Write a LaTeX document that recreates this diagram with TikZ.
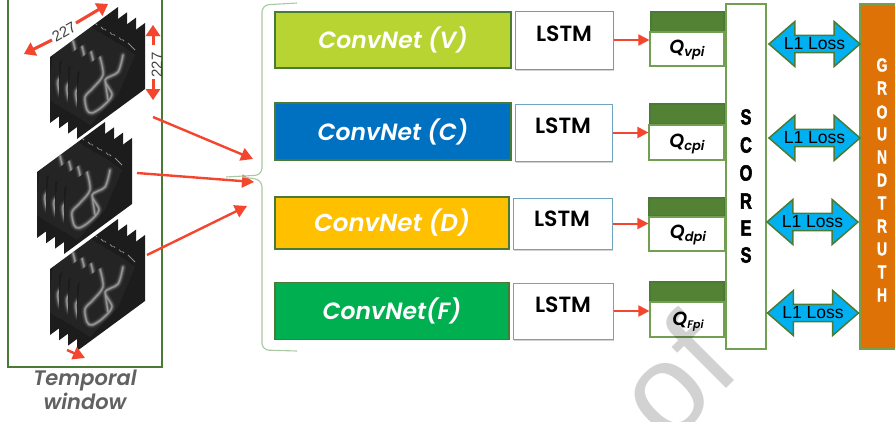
\documentclass[tikz,border=0pt]{standalone}
\usepackage{fontspec}
\usetikzlibrary{arrows.meta,shapes.arrows,shadows}
\setmainfont{Liberation Sans}
\newfontfamily\gothic[BoldFont={Poppins SemiBold},BoldItalicFont={Poppins SemiBold Italic}]{Poppins}
\newfontfamily\narrowbold[FakeStretch=0.74,FakeBold=2.5]{Liberation Sans Bold}
\newfontfamily\narrowwhite[FakeStretch=0.74,FakeBold=1.2]{Liberation Sans Bold}
\definecolor{redarrow}{HTML}{F4462F}
\definecolor{framefill}{HTML}{1C1C1C}
\definecolor{boxgreen}{HTML}{70A050}
\definecolor{darkedge}{HTML}{4A7A35}
\definecolor{headgreen}{HTML}{548235}
\definecolor{bracegreen}{HTML}{A9C9A0}
\definecolor{lstmteal}{HTML}{6FA5BC}
\definecolor{lstmgreen}{HTML}{7E9E7C}
\definecolor{lossblue}{HTML}{00B0F0}
\definecolor{truth}{HTML}{DF7206}
\definecolor{wmark}{HTML}{D2D2D2}
\tikzset{
  net/.style={draw=darkedge,line width=1.2pt,inner sep=0pt,text=white,
     font=\gothic\bfseries\itshape\fontsize{23.5}{23.5}\selectfont},
  lstmbox/.style={draw=lstmteal,fill=white,line width=1pt,inner sep=0pt,
     drop shadow={shadow xshift=1pt,shadow yshift=-1.5pt,opacity=.35}},
  lstmtext/.style={inner sep=0pt,font=\gothic\bfseries\fontsize{22}{22}\selectfont},
  qhead/.style={draw=darkedge,fill=headgreen,line width=1.2pt,inner sep=0pt},
  qbody/.style={draw=boxgreen,fill=white,line width=1.2pt,inner sep=0pt},
  qtext/.style={inner sep=0pt,font=\gothic\bfseries\itshape\fontsize{19}{19}\selectfont},
  redline/.style={draw=redarrow,line width=2.4pt,-{Triangle[length=12pt,width=13pt]}},
  dimline/.style={draw=redarrow,line width=3pt,-{Triangle[length=11pt,width=14pt]}},
  dimshadow/.style={draw=black,opacity=.18,line width=3pt,-{Triangle[length=11pt,width=14pt]},shift={(1,2)}},
  smallred/.style={draw=redarrow,line width=2pt,-{Triangle[length=11pt,width=11pt]}},
  lossarrow/.style={double arrow,double arrow tip angle=82,double arrow head extend=11pt,
     minimum height=91pt,minimum width=45pt,inner sep=0pt,draw=darkedge,fill=lossblue,
     line width=1.5pt,font=\fontsize{17.5}{17.5}\selectfont},
  brace/.style={draw=bracegreen,line width=1.1pt,rounded corners=7pt},
  tallletter/.style={inner sep=0pt,font=\narrowbold\fontsize{22}{22}\selectfont},
  truthletter/.style={inner sep=0pt,text=white,font=\narrowwhite\fontsize{19}{19}\selectfont},
  dim/.style={text=black!75,inner sep=0pt,font=\fontsize{15}{15}\selectfont},
}
\newcommand\vesselpaths[2]{%
  \draw[white,opacity=#2,line width=#1,line cap=round,line join=round]
    plot[smooth] coordinates {(100,57) (103,75) (93,88) (85,97) (87,110) (92,113) (102,107) (112,95) (105,80) (118,72) (123,55)}
    plot[smooth] coordinates {(105,80) (108,100)};
}
\newcommand\usframe{%
  \begin{scope}
    \clip (50,57) -- (118,7) -- (118,73) -- (50,123) -- cycle;
    \fill[framefill] (40,0) rectangle (130,130);
    \begin{scope}[shift={(-27,-16)}]
    \fill[white,opacity=.04] (100,30) -- (135,55) -- (118,95) -- (90,125) -- (75,115) -- (80,70) -- cycle;
    \vesselpaths{7}{.05}
    \vesselpaths{5}{.08}
    \vesselpaths{3.4}{.12}
    \vesselpaths{2.2}{.18}
    \vesselpaths{1}{.28}
    \draw[white,opacity=.5,line width=.8pt]
      (100,27) -- (104,31) (110,32) -- (114,36) (120,37) -- (124,41) (128,43) -- (135,50);
    \end{scope}
  \end{scope}
}
\newcommand\usstack[2]{%
  \begin{scope}[shift={(#1,#2)}]
    \usframe
    \begin{scope}[shift={(9,5.33)}]\usframe\end{scope}
    \begin{scope}[shift={(18,10.66)}]\usframe\end{scope}
    \begin{scope}[shift={(27,16)}]\usframe\end{scope}
  \end{scope}
}
\begin{document}
\begin{tikzpicture}[x=1pt,y=-1pt]
\clip (0,0) rectangle (895,421);
\fill[white] (0,0) rectangle (895,421);
% temporal window
\node[draw=darkedge,line width=1.2pt,minimum width=154pt,minimum height=380pt,inner sep=0pt] (tw) at (85,177) {};
\usstack{0}{0}
\usstack{-13}{115}
\usstack{0}{212}
\node[inner sep=0pt,text=black!62,align=center,font=\gothic\bfseries\itshape\fontsize{21}{24}\selectfont] (tlabel) at (85,390) {Temporal\\window};
% dimensions
\coordinate (d1a) at (52,40); \coordinate (d1b) at (24,54);
\coordinate (d2a) at (76,23); \coordinate (d2b) at (108,4);
\coordinate (d3a) at (153,45); \coordinate (d3b) at (153,25);
\coordinate (d4a) at (153,79); \coordinate (d4b) at (153,100);
\foreach \p/\q in {d1a/d1b,d2a/d2b,d3a/d3b,d4a/d4b}{
  \draw[dimshadow] (\p) -- (\q);
  \draw[dimline] (\p) -- (\q);}
\node[dim,rotate=30] (w227) at (64,32) {227};
\node[dim,rotate=90] (h227) at (157,65) {227};
\coordinate (s1) at (153,117); \coordinate (e1) at (253,159);
\coordinate (s2) at (137,173); \coordinate (e2) at (254,182);
\coordinate (s3) at (147,255); \coordinate (e3) at (247,206);
\coordinate (s4) at (67,350);  \coordinate (e4) at (85,358);
\foreach \p/\q in {s1/e1,s2/e2,s3/e3,s4/e4}{
  \draw[redline] (\p) -- (\q);}
% brace
\draw[brace] (297,3) -- (262,5) -- (262,175) -- (226,177);
\draw[brace] (243,177) -- (262,180) -- (262,350) -- (297,351);
% convnets
\node[net,fill={rgb,255:red,184;green,212;blue,50},minimum width=236pt,minimum height=56pt] (cv) at (393,40) {ConvNet (V)};
\node[net,fill={rgb,255:red,0;green,112;blue,192},minimum width=236pt,minimum height=57pt] (cc) at (393,131.5) {ConvNet (C)};
\node[net,fill={rgb,255:red,255;green,192;blue,0},minimum width=234pt,minimum height=52pt,font=\gothic\bfseries\itshape\fontsize{24.5}{24.5}\selectfont] (cd) at (392,223) {ConvNet (D)};
\node[net,fill={rgb,255:red,0;green,176;blue,80},minimum width=234pt,minimum height=57pt] (cf) at (392,311) {ConvNet(F)};
% lstm
\node[lstmbox,draw=lstmgreen,minimum width=98pt,minimum height=58pt] (lv) at (564,40) {};
\node[lstmbox,minimum width=97pt,minimum height=57pt] (lc) at (563.5,132.5) {};
\node[lstmbox,minimum width=99pt,minimum height=51pt] (ld) at (562.5,223.5) {};
\node[lstmbox,minimum width=100pt,minimum height=56pt] (lf) at (563,311) {};
\node[lstmtext] (tv) at (564,34) {LSTM};
\node[lstmtext] (tc) at (563,126) {LSTM};
\node[lstmtext] (td) at (562,219) {LSTM};
\node[lstmtext] (tf) at (563,305) {LSTM};
% Q boxes
\node[qhead,minimum width=73pt,minimum height=20pt] (hv) at (687.5,22) {};
\node[qbody,minimum width=74pt,minimum height=34pt] (qv) at (687,49) {};
\node[qhead,minimum width=75pt,minimum height=20pt] (hc) at (687.5,114) {};
\node[qbody,minimum width=75pt,minimum height=35pt] (qc) at (686.5,142.5) {};
\node[qhead,minimum width=76pt,minimum height=18pt] (hd) at (687,207) {};
\node[qbody,minimum width=76pt,minimum height=34pt] (qd) at (687,234) {};
\node[qhead,minimum width=74pt,minimum height=20pt] (hf) at (687,292) {};
\node[qbody,minimum width=74pt,minimum height=35pt] (qf) at (687,319.5) {};
\node[qtext] (tqv) at (687,50) {Q\fontsize{13}{13}\selectfont\raisebox{-3pt}{vpi}};
\node[qtext] (tqc) at (687,144) {Q\fontsize{13}{13}\selectfont\raisebox{-3pt}{cpi}};
\node[qtext] (tqd) at (688,235) {Q\fontsize{13}{13}\selectfont\raisebox{-3pt}{dpi}};
\draw[smallred] (lv.east) -- (qv.west |- lv.east);
\draw[smallred] (lc.east) -- (qc.west |- lc.east);
\draw[smallred] (ld.east) -- (qd.west |- ld.east);
\draw[smallred] (lf.east) -- (qf.west |- lf.east);
% scores
\node[draw=boxgreen,fill=white,line width=1.2pt,minimum width=40pt,minimum height=345pt,inner sep=0pt] (scores) at (746,176.5) {};
\foreach \l/\y/\n in {S/117/a,C/145/b,O/173/c,R/201/d,E/228/e,S/255/f}{
  \node[tallletter] (sc\n) at (746,\y) {\l};}
% ground truth
\node[draw=boxgreen,fill=truth,line width=1.2pt,minimum width=40pt,minimum height=345pt,inner sep=0pt] (gt) at (880,176.5) {};
\foreach \l/\y/\n in {G/65/a,R/88/b,O/112/c,U/134/d,N/157/e,D/180/f,T/203/g,R/226/h,U/249/i,T/272/j,H/295/k}{
  \node[truthletter] (gt\n) at (882,\y) {\l};}
% L1 loss
\node[lossarrow] (l1) at (814.5,44) {L1 Loss};
\node[lossarrow] (l2) at (814.5,138) {L1 Loss};
\node[lossarrow] (l3) at (812.5,222) {L1 Loss};
\node[lossarrow] (l4) at (813,313) {L1 Loss};
% watermark over the boxes
\begin{scope}[blend mode=multiply]
\node[text=wmark,inner sep=0pt,rotate=45,font=\fontsize{128}{128}\selectfont] (wm) at (674,377) {of};
\end{scope}
\node[qtext] (tqf) at (688,322) {Q\fontsize{11}{11}\selectfont\raisebox{-3pt}{Fpi}};
\end{tikzpicture}
\end{document}
